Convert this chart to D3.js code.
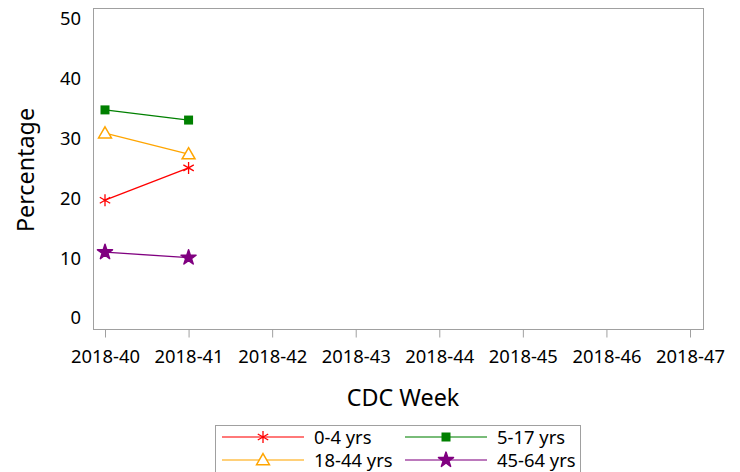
<!DOCTYPE html>
<html><head><meta charset="utf-8">
<script src="https://cdn.jsdelivr.net/npm/d3@7"></script>
<style>body{margin:0;background:#fff}svg{display:block}text{font-family:"Noto Sans",sans-serif;fill:#000}</style>
</head><body><svg id="c" width="740" height="472"></svg>
<script>
const weeks = ["2018-40","2018-41","2018-42","2018-43","2018-44","2018-45","2018-46","2018-47"];
const yTicks = [0,10,20,30,40,50];
const seriesNames = ["0-4 yrs","5-17 yrs","18-44 yrs","45-64 yrs"];
const seriesColors = ["#ff0000","#008000","#ffa500","#800080"];
const seriesSymbols = ["asterisk","square","triangle","star"];
const v0_4 = [19.7, 25.1];
const v5_17 = [34.8, 33.1];
const v18_44 = [30.9, 27.4];
const v45_64 = [11.0, 10.1];
const seriesValues = [v0_4, v5_17, v18_44, v45_64];

const svg = d3.select("#c");
const frame = {l:93, r:703, t:8, b:329};
const x = d3.scalePoint().domain(weeks).range([105, 690]);
const y = d3.scaleLinear().domain([0,50]).range([318, 19]);

svg.append("rect").attr("x",frame.l+0.5).attr("y",frame.t+0.5)
  .attr("width",frame.r-frame.l).attr("height",frame.b-frame.t)
  .attr("fill","none").attr("stroke","#a0a0a0").attr("stroke-width",1);

// x axis
const xa = svg.append("g").attr("transform",`translate(0,${frame.b+0.5})`)
  .call(d3.axisBottom(x).tickSize(8).tickSizeOuter(0).tickPadding(12));
xa.select(".domain").remove();
xa.selectAll(".tick line").attr("stroke","#a0a0a0");
xa.selectAll(".tick text").attr("font-size",18.4).attr("font-family","Noto Sans").attr("fill","#000");

// y axis
const ya = svg.append("g").attr("transform",`translate(${frame.l},0)`)
  .call(d3.axisLeft(y).tickValues(yTicks).tickSize(0).tickPadding(12));
ya.select(".domain").remove();
ya.selectAll(".tick text").attr("font-size",18.4).attr("font-family","Noto Sans").attr("fill","#000");

svg.append("text").attr("x",403).attr("y",406).attr("text-anchor","middle")
  .attr("font-size",23.3).text("CDC Week");
svg.append("text").attr("transform","translate(34,170) rotate(-90)").attr("text-anchor","middle")
  .attr("font-size",23.3).text("Percentage");

function marker(g, sym, color, cx, cy){
  if(sym==="asterisk"){
    const r=6;
    g.append("path").attr("d",`M${cx},${cy-r}V${cy+r}M${cx-r*0.87},${cy-r*0.5}L${cx+r*0.87},${cy+r*0.5}M${cx-r*0.87},${cy+r*0.5}L${cx+r*0.87},${cy-r*0.5}`)
      .attr("stroke",color).attr("stroke-width",1.3).attr("fill","none");
  } else if(sym==="square"){
    g.append("rect").attr("x",cx-4.5).attr("y",cy-4.5).attr("width",9).attr("height",9).attr("fill",color);
  } else if(sym==="triangle"){
    g.append("path").attr("d",d3.symbol(d3.symbolTriangle,72)()).attr("transform",`translate(${cx},${cy+1})`)
      .attr("fill","#fff").attr("stroke",color).attr("stroke-width",1.5);
  } else {
    g.append("path").attr("d",d3.symbol(d3.symbolStar,70)()).attr("transform",`translate(${cx},${cy})`)
      .attr("fill",color).attr("stroke",color).attr("stroke-width",1.5).attr("stroke-linejoin","round");
  }
}

const line = d3.line().x((d,i)=>x(weeks[i])).y(d=>y(d));
seriesValues.forEach((vals,k)=>{
  const g = svg.append("g");
  g.append("path").datum(vals).attr("d",line).attr("fill","none").attr("stroke",seriesColors[k]).attr("stroke-width",1.3);
  vals.forEach((v,i)=>marker(g, seriesSymbols[k], seriesColors[k], x(weeks[i]), y(v)));
});

// legend
const lg = svg.append("g");
lg.append("rect").attr("x",215.5).attr("y",425.5).attr("width",365).attr("height",60)
  .attr("fill","#fff").attr("stroke","#a0a0a0");
const legPos = [[222,437],[405,437],[222,460],[405,460]];
[0,1,2,3].forEach((k,j)=>{
  const [lx,ly]=legPos[j];
  lg.append("line").attr("x1",lx).attr("x2",lx+82).attr("y1",ly).attr("y2",ly)
    .attr("stroke",seriesColors[k]).attr("stroke-width",1.5).attr("stroke-opacity",0.7);
  marker(lg, seriesSymbols[k], seriesColors[k], lx+41, ly);
  lg.append("text").attr("x",lx+92).attr("y",ly+6.5).attr("font-size",18.4).text(seriesNames[k]);
});
</script></body></html>
